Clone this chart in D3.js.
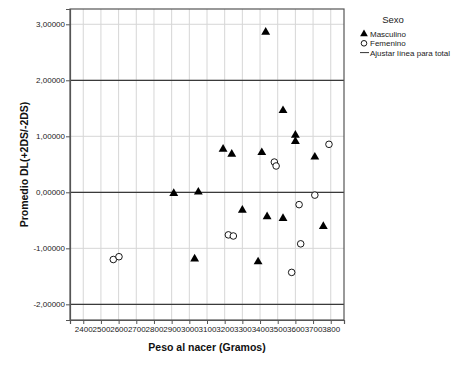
<!DOCTYPE html>
<html>
<head>
<meta charset="utf-8">
<script src="https://cdn.jsdelivr.net/npm/d3@7"></script>
<style>
  body { margin: 0; background: #fff; }
  text { font-family: "Liberation Sans", Arial, sans-serif; }
</style>
</head>
<body>
<div id="chart"></div>
<script>
var width = 459;
var height = 367;

// data
var masculinoPeso = [3432, 3530, 3600, 3600, 3191, 3240, 3410, 3710, 2912, 3051, 3300, 3440, 3530, 3758, 3030, 3389];
var masculinoDL = [2.86, 1.46, 1.02, 0.91, 0.77, 0.68, 0.71, 0.63, -0.02, 0.005, -0.32, -0.435, -0.465, -0.61, -1.19, -1.24];
var femeninoPeso = [3790, 3481, 3491, 3710, 3621, 3221, 3249, 3630, 3579, 2570, 2602];
var femeninoDL = [0.857, 0.54, 0.47, -0.05, -0.22, -0.76, -0.78, -0.92, -1.43, -1.2, -1.15];
var xTicks = [2400, 2500, 2600, 2700, 2800, 2900, 3000, 3100, 3200, 3300, 3400, 3500, 3600, 3700, 3800];
var yTicks = [-2, -1, 0, 1, 2, 3];
var refLines = [-2, 0, 2];
var legendItems = ["Masculino", "Femenino", "Ajustar línea para total"];

var plot = { left: 70, right: 344, top: 9, bottom: 320 };

var svg = d3
  .select("#chart")
  .append("svg")
  .attr("width", width)
  .attr("height", height);

var x = d3.scaleLinear().domain([2325, 3875]).range([plot.left, plot.right]);
var y = d3.scaleLinear().domain([-2.28, 3.273]).range([plot.bottom, plot.top]);

// SPSS style: comma decimals, plain hyphen for minus
var fmt = function(d) {
  return d3.format(".5f")(d).replace(".", ",").replace("\u2212", "-");
};

// grid lines
svg.append("g")
  .selectAll("line")
  .data(xTicks)
  .enter()
  .append("line")
  .attr("x1", d => x(d)).attr("x2", d => x(d))
  .attr("y1", plot.top).attr("y2", plot.bottom)
  .attr("stroke", "#d6d6d6")
  .attr("stroke-width", 1);

svg.append("g")
  .selectAll("line")
  .data(yTicks)
  .enter()
  .append("line")
  .attr("x1", plot.left).attr("x2", plot.right)
  .attr("y1", d => y(d)).attr("y2", d => y(d))
  .attr("stroke", "#d6d6d6")
  .attr("stroke-width", 1);

// reference lines
svg.append("g")
  .selectAll("line")
  .data(refLines)
  .enter()
  .append("line")
  .attr("x1", plot.left).attr("x2", plot.right)
  .attr("y1", d => y(d)).attr("y2", d => y(d))
  .attr("stroke", "#3a3a3a")
  .attr("stroke-width", 1.2);

// frame
svg.append("rect")
  .attr("x", plot.left).attr("y", plot.top)
  .attr("width", plot.right - plot.left)
  .attr("height", plot.bottom - plot.top)
  .attr("fill", "none")
  .attr("stroke", "#555")
  .attr("stroke-width", 1.2);

// axes
var xAxis = svg.append("g")
  .attr("transform", "translate(0," + plot.bottom + ")")
  .call(d3.axisBottom(x).tickValues(xTicks).tickSize(4).tickPadding(2).tickFormat(d3.format("d")));
var yAxis = svg.append("g")
  .attr("transform", "translate(" + plot.left + ",0)")
  .call(d3.axisLeft(y).tickValues(yTicks).tickSize(4).tickPadding(1).tickFormat(fmt));

[xAxis, yAxis].forEach(function(a) {
  a.select(".domain").attr("stroke", "#555").attr("stroke-width", 1.2);
  a.selectAll(".tick line").attr("stroke", "#555");
  a.selectAll(".tick text")
    .attr("fill", "#222")
    .style("font-family", "'Liberation Sans', Arial, sans-serif")
    .style("font-size", "8px");
});

// axis titles
svg.append("text")
  .attr("x", (plot.left + plot.right) / 2)
  .attr("y", 351)
  .attr("text-anchor", "middle")
  .style("font-size", "10.5px")
  .style("font-weight", "bold")
  .attr("fill", "#111")
  .text("Peso al nacer (Gramos)");

svg.append("text")
  .attr("transform", "translate(28," + (plot.top + plot.bottom) / 2 + ") rotate(-90)")
  .attr("text-anchor", "middle")
  .style("font-size", "10.5px")
  .style("font-weight", "bold")
  .attr("fill", "#111")
  .text("Promedio DL(+2DS/-2DS)");

// points
var tri = d3.symbol().type(d3.symbolTriangle).size(34);
svg.append("g")
  .selectAll("path")
  .data(masculinoPeso)
  .enter()
  .append("path")
  .attr("d", tri)
  .attr("transform", (d, i) => "translate(" + x(d) + "," + y(masculinoDL[i]) + ")")
  .attr("fill", "#000");

svg.append("g")
  .selectAll("circle")
  .data(femeninoPeso)
  .enter()
  .append("circle")
  .attr("cx", d => x(d))
  .attr("cy", (d, i) => y(femeninoDL[i]))
  .attr("r", 3.3)
  .attr("fill", "#fff")
  .attr("stroke", "#000")
  .attr("stroke-width", 0.9);

// legend
var lg = svg.append("g");
lg.append("text")
  .attr("x", 393).attr("y", 23)
  .attr("text-anchor", "middle")
  .style("font-size", "9.5px")
  .attr("fill", "#222")
  .text("Sexo");

var item = lg.selectAll("g.item")
  .data(legendItems)
  .enter()
  .append("g")
  .attr("class", "item")
  .attr("transform", (d, i) => "translate(0," + (34 + i * 9.3) + ")");

item.append("text")
  .attr("x", 370).attr("y", 3)
  .style("font-size", "8px")
  .attr("fill", "#222")
  .text(d => d);

item.filter((d, i) => i === 0)
  .append("path")
  .attr("d", d3.symbol().type(d3.symbolTriangle).size(26))
  .attr("transform", "translate(364,0)");
item.filter((d, i) => i === 1)
  .append("circle")
  .attr("cx", 364).attr("cy", 0).attr("r", 2.8)
  .attr("fill", "#fff").attr("stroke", "#000").attr("stroke-width", 0.9);
item.filter((d, i) => i === 2)
  .append("line")
  .attr("x1", 360).attr("x2", 369).attr("y1", 0).attr("y2", 0)
  .attr("stroke", "#333").attr("stroke-width", 1);
</script>
</body>
</html>
